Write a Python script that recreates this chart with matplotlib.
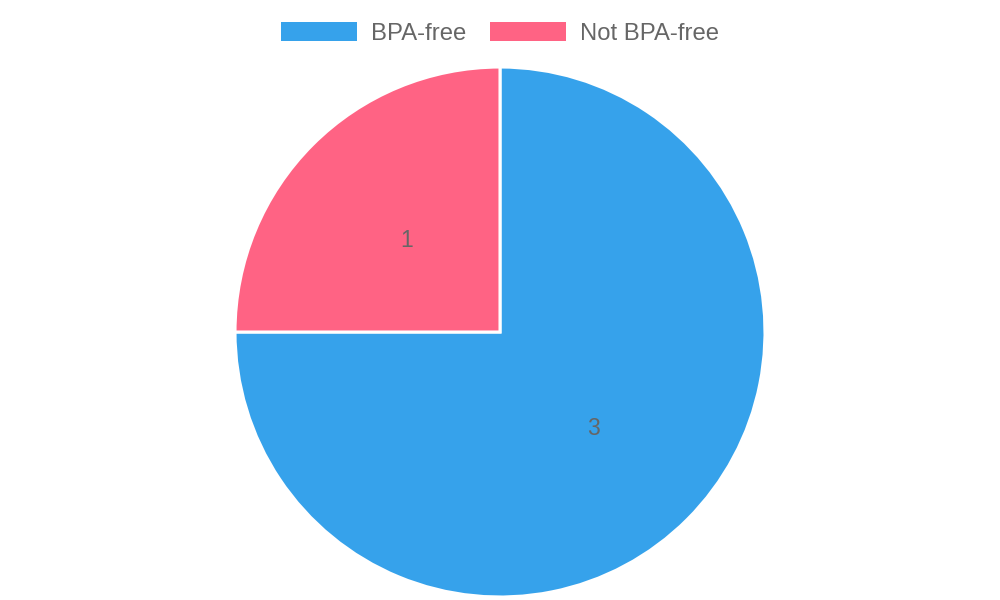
import matplotlib.pyplot as plt
from matplotlib.patches import Patch

plt.rcParams['font.family'] = ['Liberation Sans', 'DejaVu Sans']

labels = ['BPA-free', 'Not BPA-free']
counts = [3, 1]
colors = ['#36A2EB', '#FF6384']
text_color = '#666666'

fig = plt.figure(figsize=(10, 6), dpi=100)
# pie centre at (500, 332) px, radius 265 px
ax = fig.add_axes([0.235, 0.005, 0.53, 0.8833])

total = sum(counts)
wedges, texts, autotexts = ax.pie(
    counts, colors=colors, startangle=90, counterclock=False,
    wedgeprops=dict(edgecolor='white', linewidth=2.2),
    autopct=lambda p: '{:.0f}'.format(p * total / 100.0),
    pctdistance=0.5, radius=1.0,
    textprops=dict(color=text_color, fontsize=16.5))
for t in autotexts:
    x, y = t.get_position()
    t.set_position((x, y - 0.01))
ax.set_xlim(-1.0, 1.0)
ax.set_ylim(-1.0, 1.0)
ax.set_aspect('equal')
ax.axis('off')

fs = 17.2
px = fs * 100 / 72.0
handles = [Patch(facecolor=c, edgecolor='none') for c in colors]
fig.legend(handles, labels, loc='center', bbox_to_anchor=(0.5, 1 - 33.5 / 600.0),
           ncol=2, frameon=False, fontsize=fs, labelcolor=text_color,
           handlelength=76 / px, handleheight=20 / px,
           handletextpad=14 / px, columnspacing=24 / px, borderpad=0)

fig.savefig('out.png', dpi=100)
